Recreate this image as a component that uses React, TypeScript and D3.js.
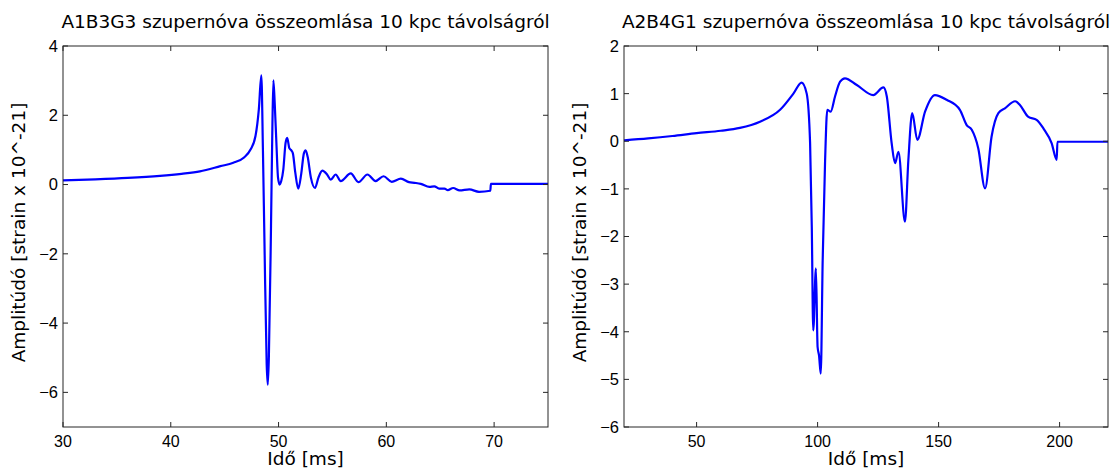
import React from "react";
import * as d3 from "d3";

// ---- Data: A1B3G3 (left panel) ----
const timeA: number[] = [30, 33, 36, 39, 41, 42.7, 44.6, 45.8, 46.8, 47.4, 47.86, 48.17, 48.4, 48.55, 48.7, 48.9, 49.0, 49.1, 49.3, 49.42, 49.52, 49.65, 49.8, 49.95, 50.1, 50.25, 50.44, 50.65, 50.8, 51.0, 51.2, 51.33, 51.55, 51.83, 52.1, 52.35, 52.51, 52.7, 53.0, 53.38, 53.7, 54.06, 54.5, 54.84, 55.3, 55.77, 56.7, 57.41, 58.25, 59.0, 59.74, 60.5, 61.35, 62.1, 62.6, 63.2, 64.0, 64.45, 64.9, 65.4, 65.7, 66.2, 66.8, 67.7, 68.6, 69.65, 69.7, 75];
const ampA: number[] = [0.12, 0.15, 0.19, 0.25, 0.31, 0.38, 0.53, 0.63, 0.78, 1.01, 1.4, 2.17, 3.15, 1.0, -1.8, -5.2, -5.78, -5.0, -1.2, 1.5, 3.01, 2.3, 1.2, 0.2, 0.0, 0.1, 0.43, 1.2, 1.35, 1.05, 0.98, 0.9, 0.35, -0.12, 0.3, 0.9, 0.99, 0.8, 0.2, -0.1, 0.2, 0.4, 0.29, 0.14, 0.29, 0.1, 0.32, 0.07, 0.29, 0.1, 0.24, 0.08, 0.17, 0.07, 0.05, 0.02, -0.07, -0.05, -0.12, -0.12, -0.16, -0.1, -0.17, -0.14, -0.21, -0.18, 0.02, 0.02];

// ---- Data: A2B4G1 (right panel) ----
const timeB: number[] = [20, 30, 40, 50, 60, 67.9, 76.2, 84.5, 90.0, 93.4, 95.5, 96.9, 97.6, 98.2, 99.3, 100.0, 100.6, 101.3, 102.1, 103.1, 104.0, 105.4, 107.2, 109.3, 111.3, 116.2, 123.0, 127.2, 128.6, 130.6, 132.0, 133.4, 136.1, 137.5, 139.1, 141.2, 144.4, 148.5, 153.3, 158.8, 161.6, 163.7, 166.4, 169.2, 171.9, 174.7, 177.4, 181.6, 183.6, 187.1, 190.5, 193.3, 196.7, 198.8, 199.1, 220];
const ampB: number[] = [0.02, 0.06, 0.11, 0.17, 0.22, 0.28, 0.41, 0.66, 1.0, 1.23, 1.0, -0.04, -1.8, -3.97, -2.67, -4.32, -4.5, -4.88, -2.5, -0.4, 0.66, 0.62, 0.94, 1.25, 1.32, 1.18, 0.97, 1.13, 0.94, -0.04, -0.46, -0.22, -1.69, -0.4, 0.59, 0.03, 0.62, 0.97, 0.87, 0.66, 0.34, 0.24, -0.15, -0.99, 0.1, 0.59, 0.69, 0.84, 0.76, 0.51, 0.45, 0.27, -0.04, -0.39, -0.01, -0.01];

// ---- Axes ticks ----
const xTicksA: number[] = [30, 40, 50, 60, 70];
const yTicksA: number[] = [-6, -4, -2, 0, 2, 4];
const xTicksB: number[] = [50, 100, 150, 200];
const yTicksB: number[] = [-6, -5, -4, -3, -2, -1, 0, 1, 2];

const titleA = "A1B3G3 szupernóva összeomlása 10 kpc távolságról";
const titleB = "A2B4G1 szupernóva összeomlása 10 kpc távolságról";
const xLabel = "Idő [ms]";
const yLabel = "Amplitúdó [strain x 10^-21]";

const fmt = (v: number) => (v < 0 ? "\u2212" + Math.abs(v) : String(v));

type PanelProps = {
  left: number;
  right: number;
  xDomain: [number, number];
  yDomain: [number, number];
  xTicks: number[];
  yTicks: number[];
  t: number[];
  v: number[];
  title: string;
};

const TOP = 46;
const BOTTOM = 427;
const TICK = 5;
const AXIS = "#262626";

function Panel({ left, right, xDomain, yDomain, xTicks, yTicks, t, v, title }: PanelProps) {
  const x = d3.scaleLinear().domain(xDomain).range([left, right]);
  const y = d3.scaleLinear().domain(yDomain).range([BOTTOM, TOP]);
  const pts: [number, number][] = t.map((ti, i) => [ti, v[i]]);
  const line = d3
    .line<[number, number]>()
    .x((d) => x(d[0]))
    .y((d) => y(d[1]))
    .curve(d3.curveMonotoneX);
  const cx = (left + right) / 2;
  return (
    <g>
      <text x={cx} y={28} textAnchor="middle" fontFamily="DejaVu Sans" fontSize={18.5} fill="#000">
        {title}
      </text>
      <path d={line(pts) || ""} fill="none" stroke="#0000ff" strokeWidth={2.2} strokeLinejoin="round" />
      <rect x={left} y={TOP} width={right - left} height={BOTTOM - TOP} fill="none" stroke={AXIS} strokeWidth={1} />
      {xTicks.map((tk) => (
        <g key={"x" + tk}>
          <line x1={x(tk)} x2={x(tk)} y1={BOTTOM} y2={BOTTOM - TICK} stroke={AXIS} />
          <line x1={x(tk)} x2={x(tk)} y1={TOP} y2={TOP + TICK} stroke={AXIS} />
          <text x={x(tk)} y={446.5} textAnchor="middle" fontFamily="Liberation Sans" fontSize={16} fill="#000">
            {fmt(tk)}
          </text>
        </g>
      ))}
      {yTicks.map((tk) => (
        <g key={"y" + tk}>
          <line x1={left} x2={left + TICK} y1={y(tk)} y2={y(tk)} stroke={AXIS} />
          <line x1={right} x2={right - TICK} y1={y(tk)} y2={y(tk)} stroke={AXIS} />
          <text x={left - 5} y={y(tk)} dy="0.36em" textAnchor="end" fontFamily="Liberation Sans" fontSize={16.5} fill="#000">
            {fmt(tk)}
          </text>
        </g>
      ))}
      <text x={cx} y={465} textAnchor="middle" fontFamily="DejaVu Sans" fontSize={18.5} fill="#000">
        {xLabel}
      </text>
      <text
        transform={`translate(${left - 38},${(TOP + BOTTOM) / 2 - 4}) rotate(-90)`}
        textAnchor="middle"
        fontFamily="DejaVu Sans"
        fontSize={18.5}
        fill="#000"
      >
        {yLabel}
      </text>
    </g>
  );
}

export default function App() {
  return (
    <svg width={1118} height={472} style={{ position: "absolute", left: 0, top: 0, background: "#fff" }}>
      <rect x={0} y={0} width={1118} height={472} fill="#fff" />
      <Panel left={63} right={548} xDomain={[30, 75]} yDomain={[-7, 4]} xTicks={xTicksA} yTicks={yTicksA} t={timeA} v={ampA} title={titleA} />
      <Panel left={624} right={1108} xDomain={[20, 220]} yDomain={[-6, 2]} xTicks={xTicksB} yTicks={yTicksB} t={timeB} v={ampB} title={titleB} />
    </svg>
  );
}
